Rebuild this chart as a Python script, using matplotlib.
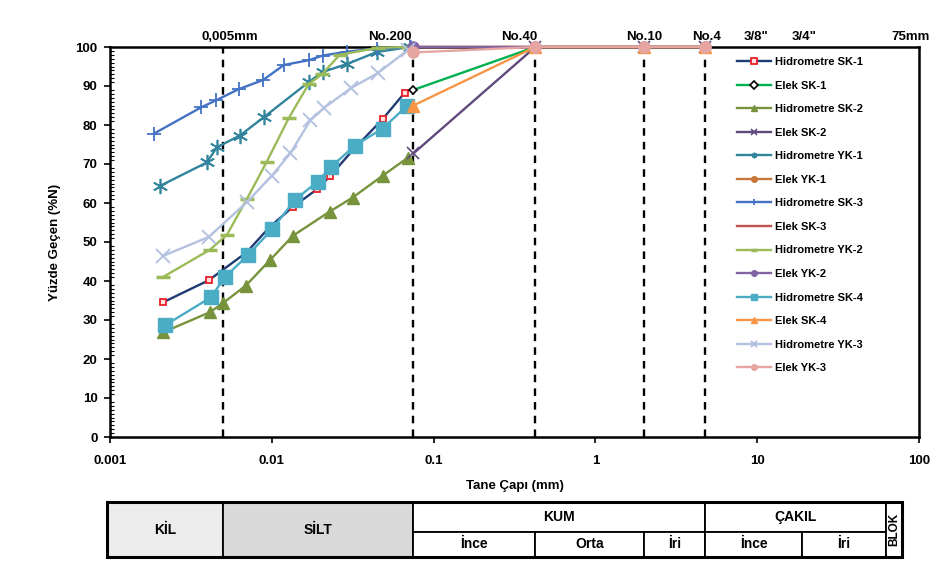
import matplotlib
matplotlib.use("Agg")
import matplotlib.pyplot as plt
from matplotlib.patches import Rectangle
from matplotlib.ticker import MultipleLocator, FixedLocator, FixedFormatter, NullLocator
import matplotlib.transforms as mtransforms

plt.rcParams['font.family'] = ['Liberation Sans', 'DejaVu Sans']
plt.rcParams['font.weight'] = 'bold'

# ---------------- data ----------------
hs1_x = [0.00212, 0.00408, 0.00701, 0.00972, 0.0135, 0.0190, 0.0228, 0.0316, 0.0484, 0.0663]
hs1_y = [34.5, 40.2, 47.4, 53.9, 59.0, 63.5, 66.8, 73.5, 81.5, 88.3]

hs2_x = [0.00212, 0.00414, 0.00498, 0.00690, 0.00972, 0.0135, 0.0228, 0.0316, 0.0484, 0.0692]
hs2_y = [26.8, 32.0, 34.3, 38.8, 45.3, 51.6, 57.8, 61.4, 67.0, 71.6]

hy1_x = [0.00204, 0.00397, 0.00458, 0.00635, 0.00893, 0.0169, 0.0206, 0.0290, 0.0445, 0.0711]
hy1_y = [64.4, 70.4, 74.3, 77.3, 82.0, 91.0, 93.6, 95.6, 98.7, 100.0]

hs3_x = [0.00187, 0.00365, 0.00451, 0.00625, 0.00880, 0.0119, 0.0169, 0.0206, 0.0290, 0.0445, 0.0711]
hs3_y = [77.8, 84.5, 86.3, 89.2, 91.5, 95.4, 96.6, 97.8, 98.8, 99.6, 100.0]

hy2_x = [0.00212, 0.00414, 0.00527, 0.00701, 0.00931, 0.0127, 0.0169, 0.0204, 0.0263, 0.0451, 0.0692]
hy2_y = [41.0, 48.0, 51.8, 61.0, 70.6, 81.7, 90.5, 93.0, 98.0, 99.8, 100.0]

hs4_x = [0.00218, 0.00420, 0.00513, 0.00711, 0.0101, 0.0139, 0.0192, 0.0233, 0.0326, 0.0484, 0.0681]
hs4_y = [28.6, 35.8, 41.0, 46.6, 53.4, 60.8, 65.5, 69.3, 74.7, 79.1, 84.8]

hy3_x = [0.00212, 0.00408, 0.00705, 0.0100, 0.0130, 0.0173, 0.0209, 0.0307, 0.0451, 0.0692]
hy3_y = [46.4, 51.3, 60.3, 67.0, 72.7, 81.2, 84.3, 89.4, 93.3, 99.2]

sieve_x = [0.075, 0.425, 2.0, 4.75]
es1_y = [89.0, 100, 100, 100]
es2_y = [72.7, 100, 100, 100]
ey1_y = [100, 100, 100, 100]
es3_y = [100, 100, 100, 100]
ey2_y = [100, 100, 100, 100]
es4_y = [85.0, 100, 100, 100]
ey3_y = [98.6, 100, 100, 100]

boundary_x = [0.005, 0.075, 0.425, 2.0, 4.75]
top_labels = ['0,005mm', 'No.200', 'No.40', 'No.10', 'No.4', '3/8"', '3/4"', '75mm']
top_label_x = [0.00551, 0.0535, 0.340, 2.0, 4.84, 9.86, 19.5, 89.0]

xticks = [0.001, 0.01, 0.1, 1, 10, 100]
xtick_labels = ['0.001', '0.01', '0.1', '1', '10', '100']

# table column boundaries (mm)
table_edges = [0.00096, 0.005, 0.075, 0.425, 2.0, 4.75, 19.0, 62.5, 78.5]

# ---------------- figure ----------------
W, H = 951, 572
fig = plt.figure(figsize=(W / 100, H / 100), dpi=100)
ax = fig.add_axes([110 / W, (H - 437) / H, 809 / W, 390 / H])
ax.set_xscale('log')
ax.set_xlim(0.001, 100)
ax.set_ylim(0, 100)

lw = 1.7
series = [
    (hs1_x, hs1_y, 'Hidrometre SK-1', dict(color='#1f3b73', marker='s', ms=5, mfc='#ffe0e0', mec='#e8202a', mew=1.3)),
    (sieve_x, es1_y, 'Elek SK-1', dict(color='#00b050', marker='D', ms=4, mfc='white', mec='black', mew=1.2)),
    (hs2_x, hs2_y, 'Hidrometre SK-2', dict(color='#77933c', marker='^', ms=8, mfc='#77933c', mec='#77933c')),
    (sieve_x, es2_y, 'Elek SK-2', dict(color='#604a7b', marker='x', ms=8, mew=1.2)),
    (hy1_x, hy1_y, 'Hidrometre YK-1', dict(color='#31849b', marker=(6, 2, 0), ms=11, mew=1.2)),
    (sieve_x, ey1_y, 'Elek YK-1', dict(color='#c8763a', marker='o', ms=5)),
    (hs3_x, hs3_y, 'Hidrometre SK-3', dict(color='#4472c4', marker='+', ms=10, mew=1.3)),
    (sieve_x, es3_y, 'Elek SK-3', dict(color='#c0504d')),
    (hy2_x, hy2_y, 'Hidrometre YK-2', dict(color='#9bbb59', marker='_', ms=10, mew=2.5)),
    (sieve_x, ey2_y, 'Elek YK-2', dict(color='#8064a2', marker='o', ms=8)),
    (hs4_x, hs4_y, 'Hidrometre SK-4', dict(color='#4bacc6', marker='s', ms=10, mfc='#4bacc6', mec='#4bacc6')),
    (sieve_x, es4_y, 'Elek SK-4', dict(color='#f79646', marker='^', ms=8)),
    (hy3_x, hy3_y, 'Hidrometre YK-3', dict(color='#b4c1e0', marker='x', ms=10, mew=1.4)),
    (sieve_x, ey3_y, 'Elek YK-3', dict(color='#e6a5a0', marker='o', ms=8)),
]
handles = []
for xs, ys, lab, kw in series:
    h, = ax.plot(xs, ys, lw=lw, label=lab, clip_on=False, zorder=3, **kw)
    handles.append(h)

ax.vlines(boundary_x, 0, 100, colors='black', linestyles=(0, (3.2, 2.6)), lw=1.7, zorder=2)

# ticks
ax.xaxis.set_major_locator(FixedLocator(xticks))
ax.xaxis.set_major_formatter(FixedFormatter(xtick_labels))
ax.xaxis.set_minor_locator(NullLocator())
ax.yaxis.set_major_locator(MultipleLocator(10))
ax.yaxis.set_minor_locator(MultipleLocator(1))
ax.tick_params(axis='both', which='major', direction='out', length=4, width=1.2, labelsize=9.5)
ax.tick_params(axis='x', which='major', pad=9)
ax.tick_params(axis='y', which='major', pad=5)
ax.tick_params(axis='y', which='minor', direction='in', length=3, width=0.8)
for lbl in ax.get_xticklabels() + ax.get_yticklabels():
    lbl.set_fontweight('bold')
for s in ax.spines.values():
    s.set_linewidth(1.8)

ax.set_ylabel('Yüzde Geçen (%N)', fontsize=9.5, fontweight='bold', labelpad=10)
ax.set_xlabel('Tane Çapı (mm)', fontsize=9.5, fontweight='bold', labelpad=9)

trans = mtransforms.blended_transform_factory(ax.transData, ax.transAxes)
for x, t in zip(top_label_x, top_labels):
    ax.text(x, 1.026, t, transform=trans, ha='center', va='center', fontsize=9.5, fontweight='bold')

leg = ax.legend(handles=handles, loc='upper left', bbox_to_anchor=(737 / W, (H - 57) / H),
                bbox_transform=fig.transFigure, frameon=False, fontsize=8, labelspacing=1.22,
                handlelength=3.1, handletextpad=0.35, borderpad=0, borderaxespad=0)
for h in leg.legend_handles:
    h.set_markersize(4)

# ---------------- table ----------------
tax = fig.add_axes([110 / W, (H - 557) / H, 809 / W, 55 / H])
tax.set_xscale('log')
tax.set_xlim(0.001, 100)
tax.set_ylim(0, 1)
tax.axis('off')
e = table_edges
split = 0.46
cells = [
    (e[0], e[1], 0, 1, 'KİL', '#ececec'),
    (e[1], e[2], 0, 1, 'SİLT', '#d9d9d9'),
    (e[2], e[5], split, 1, 'KUM', 'white'),
    (e[2], e[3], 0, split, 'İnce', 'white'),
    (e[3], e[4], 0, split, 'Orta', 'white'),
    (e[4], e[5], 0, split, 'İri', 'white'),
    (e[5], e[7], split, 1, 'ÇAKIL', 'white'),
    (e[5], e[6], 0, split, 'İnce', 'white'),
    (e[6], e[7], 0, split, 'İri', 'white'),
    (e[7], e[8], 0, 1, 'BLOK', 'white'),
]
narrow = ['Liberation Sans Narrow', 'Liberation Sans', 'DejaVu Sans']
for x0, x1, y0, y1, lab, fc in cells:
    tax.add_patch(Rectangle((x0, y0), x1 - x0, y1 - y0, facecolor=fc, edgecolor='black',
                            lw=1.3, clip_on=False))
    xm = (x0 * x1) ** 0.5
    rot = 90 if lab == 'BLOK' else 0
    tax.text(xm, (y0 + y1) / 2, lab, ha='center', va='center', fontsize=10 if rot == 0 else 8.5,
             fontweight='bold', family=narrow, rotation=rot, clip_on=False)
tax.add_patch(Rectangle((e[0], 0), e[8] - e[0], 1, facecolor='none', edgecolor='black',
                        lw=2.2, clip_on=False))

fig.savefig('out.png', dpi=100)
